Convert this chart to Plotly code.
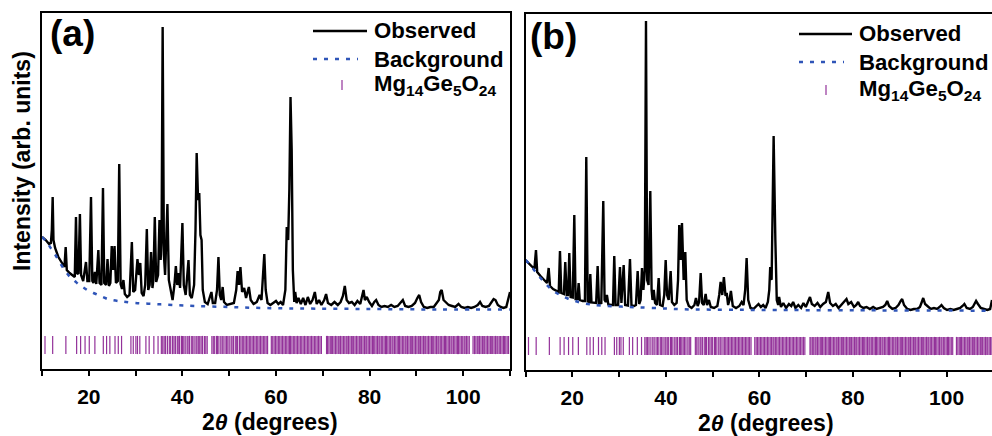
import plotly.graph_objects as go

# ---------------- data ----------------
# panel (a): observed pattern
theta_a = [10.0, 10.8, 11.5, 11.9, 12.1, 12.28, 12.45, 12.8, 13.5, 14.2, 14.8, 15.06, 15.3, 15.9, 16.5, 17.0,
           17.26, 17.5, 17.8, 18.1, 18.35, 18.8, 19.4, 19.7, 20.1, 20.47, 20.75, 21.0, 21.3, 21.6, 22.04, 22.3,
           22.7, 23.03, 23.3, 23.7, 24.0, 24.3, 24.6, 24.9, 25.2, 25.5, 25.8, 26.2, 26.5, 26.8, 27.1, 27.4,
           27.7, 28.2, 28.7, 29.2, 29.5, 29.9, 30.4, 30.7, 31.0, 31.3, 31.7, 32.05, 32.4, 32.7, 33.0, 33.3,
           33.6, 33.8, 34.1, 34.4, 34.8, 35.1, 35.35, 35.55, 35.78, 36.05, 36.3, 36.8, 37.1, 37.5, 37.9, 38.3,
           38.6, 38.9, 39.2, 39.5, 40.0, 40.3, 40.7, 41.3, 41.6, 42.0, 42.5, 42.8, 43.05, 43.35, 43.6, 43.85,
           44.1, 44.35, 44.8, 45.4, 45.9, 46.2, 46.5, 47.0, 47.4, 47.7, 48.0, 48.3, 48.6, 48.9, 49.5, 50.3,
           51.0, 51.5, 51.8, 52.1, 52.4, 52.75, 53.2, 53.6, 54.2, 54.6, 55.2, 55.9, 56.5, 56.9, 57.2, 57.5,
           57.8, 58.2, 58.8, 59.5, 60.0, 60.5, 61.0, 61.5, 62.0, 62.3, 62.6, 62.85, 63.1, 63.35, 63.6, 63.9,
           64.1, 64.4, 64.8, 65.3, 65.8, 66.3, 66.8, 67.3, 67.8, 68.3, 68.7, 69.2, 69.7, 70.3, 70.7, 71.1,
           71.8, 72.5, 73.2, 73.8, 74.3, 74.7, 75.1, 75.6, 76.2, 76.8, 77.4, 78.0, 78.4, 78.7, 79.0, 79.4,
           79.9, 80.5, 81.0, 81.4, 81.9, 82.5, 83.2, 83.9, 84.6, 85.3, 86.0, 86.6, 87.1, 87.6, 88.3, 89.0,
           89.7, 90.2, 90.6, 91.0, 91.6, 92.3, 93.0, 93.7, 94.3, 94.8, 95.1, 95.4, 95.8, 96.3, 96.9, 97.6,
           98.3, 99.0, 99.6, 100.3, 101.0, 101.7, 102.4, 103.1, 103.6, 104.1, 104.8, 105.5, 106.1, 106.5,
           106.9, 107.4, 108.0, 108.6, 109.2, 109.7, 110.0]
obs_a = [132, 129, 125, 126, 139, 172, 129, 121, 112, 106, 102, 122, 99, 96, 94, 92,
         152, 95, 96, 155, 94, 88, 107, 88, 88, 172, 88, 86, 97, 85, 119, 86,
         84, 181, 86, 84, 110, 83, 86, 123, 99, 123, 86, 88, 205, 85, 80, 89,
         75, 72, 74, 127, 77, 79, 110, 94, 106, 76, 73, 84, 140, 79, 84, 117,
         81, 89, 152, 87, 94, 149, 109, 129, 342, 114, 94, 165, 89, 79, 69, 84,
         103, 84, 96, 81, 146, 84, 74, 109, 74, 71, 84, 139, 216, 169, 176, 134,
         129, 79, 67, 65, 72, 77, 66, 66, 79, 112, 74, 69, 82, 67, 64, 65,
         66, 79, 98, 84, 102, 77, 81, 71, 82, 69, 65, 67, 74, 69, 99, 115,
         79, 66, 64, 66, 68, 65, 67, 64, 79, 142, 129, 179, 272, 219, 99, 67,
         77, 66, 71, 65, 71, 64, 72, 65, 69, 77, 65, 69, 64, 69, 75, 66,
         64, 67, 64, 67, 73, 83, 69, 66, 67, 64, 68, 65, 73, 79, 69, 72,
         67, 63, 67, 69, 64, 62, 63, 62, 64, 62, 63, 66, 69, 63, 62, 63,
         66, 71, 74, 67, 62, 61, 62, 62, 66, 69, 77, 79, 69, 67, 64, 63,
         62, 65, 62, 61, 62, 61, 62, 64, 67, 63, 62, 63, 67, 70,
         69, 64, 62, 61, 62, 71, 77]

# panel (a): refined background
bg_theta_a = [10, 11, 12, 13, 14, 15, 16, 17, 18, 19, 20, 21, 22, 23, 24, 25, 27, 30, 34, 38, 43, 50, 57, 65, 80, 95, 110]
bg_a = [132, 127, 120, 113, 105, 98, 92, 88, 84, 81, 78, 76, 74, 72, 70, 69, 67.5, 66, 65, 64, 63, 62, 61, 60.5, 60, 59.5, 59.5]

# panel (b): observed pattern
theta_b = [10.0, 10.7, 11.4, 11.9, 12.24, 12.5, 13.2, 14.0, 14.6, 14.95, 15.25, 15.9, 16.6, 17.1, 17.37, 17.65,
           18.2, 18.5, 18.8, 19.1, 19.36, 19.65, 20.1, 20.43, 20.7, 21.1, 21.36, 21.6, 22.2, 22.7, 22.99, 23.3,
           23.6, 23.85, 24.1, 24.7, 25.1, 25.42, 25.7, 26.2, 26.62, 26.9, 27.15, 27.4, 27.7, 28.3, 28.7, 28.97,
           29.25, 29.8, 30.19, 30.5, 30.98, 31.3, 31.9, 32.33, 32.65, 33.2, 33.6, 33.97, 34.3, 34.6, 34.9, 35.2,
           35.5, 35.75, 36.0, 36.3, 36.67, 36.95, 37.15, 37.4, 37.7, 38.1, 38.46, 38.75, 39.3, 39.65, 39.96, 40.25,
           40.6, 41.02, 41.3, 41.8, 42.3, 42.6, 42.86, 43.15, 43.44, 43.8, 44.15, 44.45, 44.9, 45.5, 46.1, 46.43,
           46.8, 47.1, 47.44, 47.75, 48.1, 48.5, 48.8, 49.2, 49.6, 50.3, 51.0, 51.4, 51.7, 52.05, 52.4, 52.75,
           53.0, 53.3, 53.6, 53.9, 54.3, 55.0, 55.7, 56.2, 56.6, 56.95, 57.26, 57.6, 58.1, 58.7, 59.3, 59.8,
           60.3, 60.8, 61.3, 61.8, 62.1, 62.3, 62.6, 63.03, 63.4, 63.7, 64.0, 64.2, 64.6, 65.1, 65.7, 66.3,
           66.8, 67.2, 67.7, 68.3, 68.9, 69.4, 69.9, 70.4, 70.8, 71.2, 71.8, 72.4, 73.0, 73.6, 74.2, 74.7,
           75.1, 75.7, 76.3, 76.9, 77.5, 78.0, 78.6, 79.0, 79.6, 80.2, 80.7, 81.1, 81.5, 82.2, 82.9, 83.6,
           84.3, 85.0, 85.7, 86.4, 86.9, 87.3, 87.7, 88.4, 89.1, 89.7, 90.2, 90.5, 90.9, 91.6, 92.3, 93.0,
           93.7, 94.3, 94.7, 95.0, 95.4, 96.0, 96.6, 97.3, 98.0, 98.5, 98.9, 99.4, 100.1, 100.8, 101.5, 102.2,
           102.9, 103.4, 103.8, 104.3, 105.0, 105.6, 106.0, 106.3, 106.7, 107.3, 108.0, 108.7, 109.3, 109.7]
obs_b = [110, 107, 103, 101, 120, 98, 94, 90, 87, 102, 84, 81, 79, 78, 119, 77,
         76, 108, 75, 75, 117, 73, 72.5, 155, 71, 71, 87, 70, 69, 69, 213, 68.5,
         68, 96, 67.5, 67, 67, 104, 66.5, 67, 169, 70, 68, 75, 65.5, 65, 65, 114,
         65, 65, 103, 67, 105, 65, 64.5, 111, 64.5, 64, 65, 99, 66, 70, 102, 80,
         100, 349, 90, 85, 179, 80, 70, 80, 67, 65, 92, 65, 64, 75, 110, 75,
         70, 99, 68, 65, 67, 90, 145, 110, 147, 90, 118, 70, 64, 62, 65, 72,
         64, 68, 97, 67, 65, 76, 65, 70, 63, 62, 64, 75, 88, 75, 93, 74,
         77, 65, 70, 79, 64, 62, 64, 68, 65, 80, 112, 70, 62, 61, 64, 66,
         63, 65, 62, 68, 80, 103, 90, 234, 130, 70, 65, 73, 63, 67, 62, 66,
         64, 68, 62, 65, 62, 67, 63, 69, 73, 66, 64, 67, 63, 66, 68, 78,
         67, 64, 66, 62, 65, 67, 71, 66, 68, 63, 65, 68, 64, 62, 63, 61,
         63, 61, 62, 63, 65, 69, 64, 61, 62, 65, 69, 71, 65, 61, 60, 61,
         61, 63, 68, 72, 66, 63, 61, 62, 61, 63, 65, 62, 60, 61, 60, 61,
         62, 64, 66, 62, 61, 63, 67, 69, 66, 62, 61, 60, 61, 70]

# panel (b): refined background
bg_theta_b = [10, 11, 12, 13, 14, 15, 16, 17, 18, 19, 20, 21, 22, 24, 26.6, 30, 34, 40, 44, 55, 62, 80, 110]
bg_b = [110, 105, 99, 93, 88, 83, 79, 76, 73.5, 71.5, 70, 68.5, 67, 65.5, 64.3, 63.5, 62.7, 61.5, 60.7, 60.2, 60, 59.7, 59.3]

# Bragg reflection positions of Mg14Ge5O24 (2theta, degrees)
refl_pos = [10.64, 12.28, 15.1, 17.4, 18.25, 19.2, 20.1, 21.3, 23.1, 23.8, 24.5, 25.6, 26.3, 27.0,
            29.0, 29.5, 30.06, 30.4, 30.9, 32.2, 32.9, 33.9, 34.8, 35.5, 35.8, 36.1, 36.4, 36.8,
            37.2, 37.5, 37.9, 38.2, 38.5, 38.9, 39.1, 39.4, 39.8, 40.0, 40.3, 40.6, 41.0, 41.2,
            41.5, 41.9, 42.2, 42.5, 42.9, 43.1, 43.4, 43.7, 44.0, 44.3, 44.7, 45.0, 45.3, 46.3,
            46.6, 46.9, 47.3, 47.5, 47.8, 48.2, 48.5, 48.7, 49.1, 49.4, 49.7, 50.0, 50.4, 50.6,
            50.9, 51.3, 51.6, 51.8, 52.2, 52.5, 52.8, 53.1, 53.4, 53.7, 54.0, 54.3, 54.6, 54.9,
            55.2, 55.5, 55.8, 56.1, 56.4, 56.7, 57.0, 57.3, 57.6, 57.9, 58.2, 59.0, 59.3, 59.6,
            59.9, 60.2, 60.5, 60.8, 61.1, 61.4, 61.7, 62.0, 62.3, 62.6, 62.9, 63.1, 63.4, 63.7,
            64.0, 64.3, 64.6, 64.9, 65.2, 65.5, 65.8, 66.1, 66.4, 66.7, 67.0, 67.3, 67.6, 67.9,
            68.2, 68.5, 68.8, 69.1, 69.4, 69.7, 70.8, 71.0, 71.3, 71.6, 71.9, 72.1, 72.4, 72.7,
            73.0, 73.3, 73.5, 73.8, 74.1, 74.4, 74.7, 75.0, 75.2, 75.5, 75.8, 76.1, 76.4, 76.6,
            76.9, 77.2, 77.5, 77.8, 78.0, 78.3, 78.6, 78.9, 79.2, 79.4, 79.7, 80.0, 80.3, 80.6,
            80.8, 81.1, 81.4, 81.7, 82.0, 82.2, 82.5, 82.8, 83.1, 83.4, 83.6, 83.9, 84.2, 84.5,
            84.8, 85.0, 85.3, 85.6, 85.9, 86.2, 86.4, 86.7, 87.0, 87.3, 87.6, 87.8, 88.1, 88.4,
            88.7, 89.0, 89.2, 89.5, 89.8, 90.1, 90.4, 90.6, 90.9, 91.2, 91.5, 91.8, 92.0, 92.3,
            92.6, 92.9, 93.2, 93.4, 93.7, 94.0, 94.3, 94.6, 94.8, 95.1, 95.4, 95.7, 96.0, 96.2,
            96.5, 96.8, 97.1, 97.4, 97.6, 97.9, 98.2, 98.5, 98.8, 99.0, 99.3, 99.6, 99.9, 100.2,
            100.4, 100.7, 101.0, 101.3, 102.1, 102.4, 102.7, 103.0, 103.2, 103.5, 103.8, 104.1,
            104.4, 104.6, 104.9, 105.2, 105.5, 105.8, 106.0, 106.3, 106.6, 106.9, 107.2, 107.4,
            107.7, 108.0, 108.3, 108.6, 108.8, 109.1, 109.4, 109.7]
refl_level = 24  # vertical position of the reflection tick row (a.u.)

tick_vals = [20, 40, 60, 80, 100]
tick_text = ["20", "40", "60", "80", "100"]
legend_names = ["Observed", "Background", "Mg<sub>14</sub>Ge<sub>5</sub>O<sub>24</sub>"]
panel_labels = ["(a)", "(b)"]
x_title = "2<i>θ</i> (degrees)"
y_title = "Intensity (arb. units)"

# ---------------- styling ----------------
W, H = 992, 436
FONT = "Liberation Sans"
C_OBS = "#000000"
C_BG = "#2F55B8"
C_TICK = "#93329A"
BG_DASH = "4px,7px"


def px(x):
    return x / W


def py(y):
    return 1 - y / H


fig = go.Figure()

panels = [
    dict(theta=theta_a, obs=obs_a, bt=bg_theta_a, bg=bg_a, xa="x", ya="y"),
    dict(theta=theta_b, obs=obs_b, bt=bg_theta_b, bg=bg_b, xa="x2", ya="y2"),
]
for p in panels:
    fig.add_trace(go.Scatter(x=p["theta"], y=p["obs"], mode="lines", name=legend_names[0],
                             line=dict(color=C_OBS, width=2.4), xaxis=p["xa"], yaxis=p["ya"],
                             showlegend=False))
    fig.add_trace(go.Scatter(x=p["bt"], y=p["bg"], mode="lines", name=legend_names[1],
                             line=dict(color=C_BG, width=2.5, dash=BG_DASH, shape="spline"),
                             xaxis=p["xa"], yaxis=p["ya"], showlegend=False))
    fig.add_trace(go.Scatter(x=refl_pos, y=[refl_level] * len(refl_pos), mode="markers",
                             name=legend_names[2],
                             marker=dict(symbol="line-ns", size=13, color=C_TICK,
                                         line=dict(color=C_TICK, width=1.2)),
                             xaxis=p["xa"], yaxis=p["ya"], showlegend=False))

tickfont = dict(family=FONT, size=21, color="black", weight="bold")
xcommon = dict(showline=True, linewidth=2, linecolor="black", mirror=True, showgrid=False,
               zeroline=False, ticks="outside", ticklen=5, tickwidth=2, tickcolor="black",
               tickvals=tick_vals, ticktext=tick_text, tickfont=tickfont, ticklabelstandoff=3,
               minor=dict(tickvals=[10, 30, 50, 70, 90, 110], ticks="outside", ticklen=5,
                          tickwidth=2, tickcolor="black"))
ycommon = dict(showline=True, linewidth=2, linecolor="black", showgrid=False, zeroline=False,
               showticklabels=False, ticks="", range=[0, 356])

fig.update_layout(
    width=W, height=H, margin=dict(l=0, r=0, t=0, b=0),
    paper_bgcolor="white", plot_bgcolor="white", showlegend=False,
    xaxis=dict(domain=[px(42), px(510)], range=[10, 110], anchor="y", **xcommon),
    yaxis=dict(domain=[py(369), py(13)], anchor="x", mirror=True, **ycommon),
    xaxis2=dict(domain=[px(525.5), 1], range=[10, 109.7], anchor="y2", **xcommon),
    yaxis2=dict(domain=[py(370), py(14)], anchor="x2", mirror=False, **ycommon),
)

# legends (drawn as shapes + text, one per panel)
legend_geo = [
    dict(x0=313, x1=367, xb1=358, xt=342, xtext=372, ys=[31, 59, 85]),
    dict(x0=799, x1=852, xb1=844, xt=826, xtext=857, ys=[34, 62, 90]),
]
shapes = []
annotations = []
for g in legend_geo:
    shapes.append(dict(type="line", xref="paper", yref="paper", x0=px(g["x0"]), x1=px(g["x1"]),
                       y0=py(g["ys"][0]), y1=py(g["ys"][0]), line=dict(color=C_OBS, width=2.4)))
    shapes.append(dict(type="line", xref="paper", yref="paper", x0=px(g["x0"]), x1=px(g["xb1"]),
                       y0=py(g["ys"][1]), y1=py(g["ys"][1]),
                       line=dict(color=C_BG, width=2.5, dash=BG_DASH)))
    shapes.append(dict(type="line", xref="paper", yref="paper", x0=px(g["xt"]), x1=px(g["xt"]),
                       y0=py(g["ys"][2] - 5), y1=py(g["ys"][2] + 5),
                       line=dict(color=C_TICK, width=1.2)))
    for name, yy in zip(legend_names, g["ys"]):
        annotations.append(dict(text="<b>%s</b>" % name, xref="paper", yref="paper",
                                x=px(g["xtext"]), y=py(yy), xanchor="left", yanchor="middle",
                                showarrow=False, font=dict(family=FONT, size=22.2, color="black")))

# panel labels
for lab, (cx, cy) in zip(panel_labels, [(72, 33), (553, 37)]):
    annotations.append(dict(text="<b>%s</b>" % lab, xref="paper", yref="paper", x=px(cx), y=py(cy),
                            xanchor="center", yanchor="middle", showarrow=False,
                            font=dict(family=FONT, size=37, color="black")))

# axis titles
for cx, cy in [(270, 422), (766, 423)]:
    annotations.append(dict(text="<b>%s</b>" % x_title, xref="paper", yref="paper", x=px(cx), y=py(cy),
                            xanchor="center", yanchor="middle", showarrow=False,
                            font=dict(family=FONT, size=23, color="black")))
annotations.append(dict(text="<b>%s</b>" % y_title, xref="paper", yref="paper", x=px(22), y=py(161),
                        xanchor="center", yanchor="middle", textangle=-90, showarrow=False,
                        font=dict(family=FONT, size=23, color="black")))

fig.update_layout(shapes=shapes, annotations=annotations)
fig.write_html("out.html")
